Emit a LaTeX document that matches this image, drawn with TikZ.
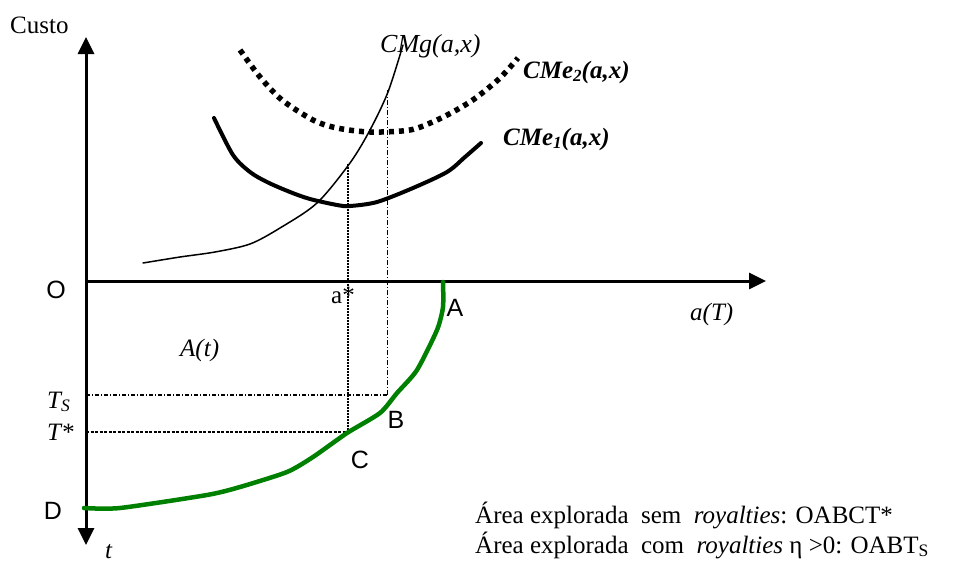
\documentclass[tikz,border=0pt]{standalone}
\usepackage{fontspec}
\setmainfont{Liberation Serif}
\newfontfamily\arialf{Liberation Sans}
\usetikzlibrary{arrows.meta}
\definecolor{curvegreen}{RGB}{0,128,0}
\tikzset{
  axisline/.style={line width=3pt,-{Triangle[length=17pt,width=16pt]}},
  lbl/.style={inner sep=0pt,font=\fontsize{25}{30}\selectfont},
  slbl/.style={inner sep=0pt,font=\arialf\fontsize{25}{30}\selectfont},
  thick1/.style={line width=4pt,line cap=round,line join=round},
  dotted2/.style={line width=5.5pt,dash pattern=on 5pt off 5pt},
  guideA/.style={line width=1.8pt,dash pattern=on 2pt off 1pt},
  guideB/.style={line width=0.8pt,dash pattern=on 5pt off 2pt on 1pt off 2pt},
  guideTS/.style={line width=1.2pt,dash pattern=on 4pt off 2pt on 1pt off 2pt},
  guideTstar/.style={line width=2pt,dash pattern=on 3pt off 1.5pt}
}
\begin{document}
\begin{tikzpicture}[x=1pt,y=-1pt]
\useasboundingbox (0,0) rectangle (960,565);
% axes
\coordinate (O) at (86,281);
\coordinate (ytop) at (86,37);
\coordinate (ybot) at (86,545);
\coordinate (xend) at (766,281);
\draw[axisline] (O) -- (ytop);
\draw[axisline] (O) -- (ybot);
\draw[axisline] (O) -- (xend);

% guide lines
\coordinate (astarTop) at (348,164);
\coordinate (astarBot) at (348,432);
\coordinate (TstarL) at (86,432);
\coordinate (TsTop) at (387,90);
\coordinate (TsBot) at (387,395);
\coordinate (TsL) at (86,395);
\draw[guideA] (astarTop) -- (astarBot);
\draw[guideTstar] (TstarL) -- (astarBot);
\draw[guideB] (TsTop) -- (TsBot);
\draw[guideTS] (TsL) -- (TsBot);

% CMg
\draw[line width=1.5pt,line cap=round] plot[smooth,tension=0.5] coordinates {
 (143,263) (180,257) (215,252) (250,244) (280,228) (317,203) (350,163) (370,130) (388,92) (403,45)};

% CMe1
\draw[thick1] plot[smooth,tension=0.5] coordinates {
 (214,118) (233,155) (250,172) (267,182) (290,192) (310,199) (337,205) (350,206) (377,202) (413,188) (447,172) (465,157) (481,143)};

% CMe2
\draw[dotted2] plot[smooth,tension=0.5] coordinates {
 (240,50) (260,77) (282,100) (313,120) (337,128) (370,132) (410,130) (437,120) (460,108) (477,97) (500,78) (518,58)};

% green curve
\draw[curvegreen,line width=4.5pt,line cap=round,line join=round] plot[smooth,tension=0.4] coordinates {
 (443,282) (443,307) (437,330) (417,370) (397,393) (380,413) (347,433) (313,457) (287,472) (240,487) (207,495) (120,508) (84,508)};

% labels
\node[lbl,anchor=base west] (custo) at (10,33) {Custo};
\node[lbl,anchor=base west,font=\fontsize{26}{30}\selectfont] (cmg) at (380,52) {\itshape CMg(a,x)};
\node[lbl,anchor=base west] (cme2) at (523,78) {\bfseries\itshape CMe\raisebox{-0.3ex}{\fontsize{17}{20}\selectfont 2}(a,x)};
\node[lbl,anchor=base west] (cme1) at (503,145) {\bfseries\itshape CMe\raisebox{-0.3ex}{\fontsize{17}{20}\selectfont 1}(a,x)};
\node[slbl] (lO) at (56,290) {O};
\node[slbl] (lA) at (455,308) {A};
\node[slbl] (lB) at (396,420) {B};
\node[slbl] (lC) at (360,460) {C};
\node[slbl] (lD) at (53,511) {D};
\node[lbl,anchor=base west] (astar) at (331,303) {a*};
\node[lbl,anchor=base west] (At) at (180,356) {\itshape A(t)};
\node[lbl,anchor=base west] (TS) at (47,408) {\itshape T\textsubscript{S}};
\node[lbl,anchor=base west] (Tst) at (47,440) {\itshape T*};
\node[lbl,anchor=base west] (tl) at (105,558) {\itshape t};
\node[lbl,anchor=base west] (aT) at (690,320) {\itshape a(T)};
\node[lbl,anchor=base west] (l1) at (475,523) {Área explorada\ \ sem\ \ \textit{royalties}: OABCT*};
\node[lbl,anchor=base west] (l2) at (475,553) {Área explorada\ \ com\ \ \textit{royalties} η >0: OABT\textsubscript{S}};
\end{tikzpicture}
\end{document}
